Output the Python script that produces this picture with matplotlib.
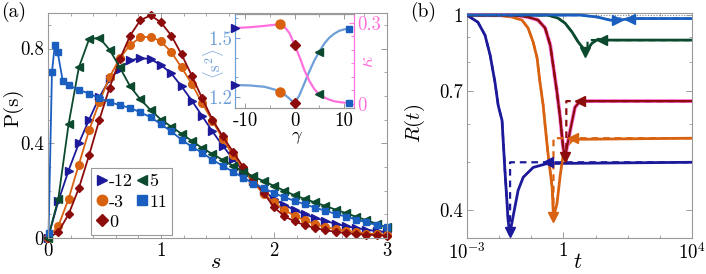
import numpy as np
import matplotlib
matplotlib.use('Agg')
import matplotlib.pyplot as plt
import matplotlib.patheffects as pe
from matplotlib.ticker import MultipleLocator, FixedLocator, FixedFormatter, NullFormatter

plt.rcParams['font.family'] = ['cmr10', 'DejaVu Serif']
plt.rcParams['mathtext.fontset'] = 'cm'
plt.rcParams['axes.formatter.use_mathtext'] = True

# ---------------- colours ----------------
c_navy = '#1c1a9a'
c_orange = '#d8620f'
c_red = '#8c0c0c'
c_green = '#0b4a2e'
c_blue = '#1a5fc0'
c_lblue = '#6e9fd6'
c_pink = '#ff70dd'
c_spine = '#9a9a9a'

# ---------------- panel (a) data ----------------
gammas = ['-12', '-3', '0', '5', '11']
s_grid = [0.0, 0.091, 0.182, 0.273, 0.364, 0.455, 0.545, 0.636, 0.727, 0.818, 0.909,
          1.0, 1.091, 1.182, 1.273, 1.364, 1.455, 1.545, 1.636, 1.727, 1.818, 1.909,
          2.0, 2.091, 2.182, 2.273, 2.364, 2.455, 2.545, 2.636, 2.727, 2.818, 2.909, 3.0]
P_m12 = [0.0, 0.155, 0.285, 0.40, 0.50, 0.595, 0.67, 0.715, 0.75, 0.76, 0.755,
         0.73, 0.695, 0.64, 0.58, 0.515, 0.45, 0.39, 0.335, 0.285, 0.24, 0.20,
         0.165, 0.14, 0.118, 0.10, 0.085, 0.072, 0.06, 0.05, 0.042, 0.035, 0.029, 0.024]
P_m3 = [0.0, 0.05, 0.165, 0.31, 0.455, 0.575, 0.68, 0.76, 0.815, 0.847, 0.85,
        0.83, 0.785, 0.72, 0.65, 0.57, 0.495, 0.42, 0.35, 0.29, 0.235, 0.185,
        0.15, 0.118, 0.094, 0.074, 0.058, 0.046, 0.037, 0.03, 0.024, 0.019, 0.016, 0.013]
P_0 = [0.0, 0.025, 0.10, 0.21, 0.35, 0.50, 0.635, 0.755, 0.855, 0.92, 0.94,
       0.91, 0.855, 0.775, 0.685, 0.59, 0.50, 0.43, 0.365, 0.30, 0.245, 0.19,
       0.13, 0.092, 0.07, 0.054, 0.042, 0.033, 0.026, 0.021, 0.017, 0.014, 0.012, 0.01]
P_5 = [0.0, 0.165, 0.48, 0.72, 0.84, 0.845, 0.795, 0.72, 0.64, 0.585, 0.54,
       0.50, 0.47, 0.44, 0.41, 0.38, 0.355, 0.33, 0.305, 0.28, 0.26, 0.24,
       0.22, 0.20, 0.18, 0.165, 0.15, 0.135, 0.12, 0.105, 0.09, 0.075, 0.06, 0.045]
s_11 = [0.005, 0.035, 0.06, 0.085, 0.13, 0.182, 0.273, 0.364, 0.455, 0.545, 0.636, 0.727,
        0.818, 0.909, 1.0, 1.091, 1.182, 1.273, 1.364, 1.455, 1.545, 1.636, 1.727, 1.818,
        1.909, 2.0, 2.091, 2.182, 2.273, 2.364, 2.455, 2.545, 2.636, 2.727, 2.818, 2.909, 3.0]
P_11 = [0.02, 0.70, 0.815, 0.786, 0.665, 0.645, 0.625, 0.61, 0.59, 0.575, 0.56, 0.55,
        0.53, 0.51, 0.48, 0.45, 0.415, 0.385, 0.36, 0.33, 0.305, 0.28, 0.255, 0.23,
        0.21, 0.19, 0.172, 0.157, 0.142, 0.128, 0.115, 0.102, 0.09, 0.078, 0.066, 0.055, 0.045]

# ---------------- inset data ----------------
gam_curve = [-12, -9, -6, -4, -3, -2, -1, 0, 1, 2, 3, 4, 5, 6, 7, 8, 9, 10, 11]
s2_curve = [1.261, 1.259, 1.252, 1.238, 1.228, 1.213, 1.192, 1.168, 1.21, 1.27, 1.33,
            1.385, 1.43, 1.47, 1.50, 1.52, 1.535, 1.542, 1.546]
kappa_curve = [0.281, 0.284, 0.289, 0.293, 0.296, 0.285, 0.262, 0.219, 0.175, 0.125,
               0.085, 0.055, 0.035, 0.024, 0.016, 0.010, 0.007, 0.005, 0.004]
gam_mark = [-12, -3, 0, 5, 11]
s2_mark = [1.261, 1.228, 1.168, 1.43, 1.546]
kappa_mark = [0.281, 0.296, 0.219, 0.035, 0.004]

# ---------------- panel (b) data (log10 t, R) ----------------
lt_m12 = [-3.0, -2.66, -2.44, -2.28, -2.13, -2.03, -1.91, -1.82, -1.72, -1.67, -1.57, -1.41, -1.25, -0.94, -0.51, 4.0]
R_m12 = [1.0, 0.967, 0.910, 0.828, 0.729, 0.654, 0.609, 0.481, 0.380, 0.357, 0.386, 0.438, 0.466, 0.488, 0.497, 0.50]
ltd_m12 = [-3.0, -2.66, -2.44, -2.28, -2.13, -2.03, -1.91, -1.82, -1.72, -1.66, -1.66, 4.0]
Rd_m12 = [1.0, 0.967, 0.910, 0.828, 0.729, 0.654, 0.609, 0.481, 0.380, 0.365, 0.50, 0.50]

lt_m3 = [-3.0, -2.0, -1.60, -1.29, -1.10, -0.94, -0.82, -0.73, -0.63, -0.57, -0.48, -0.35, -0.31, -0.20, -0.10, -0.01, 0.12, 0.30, 4.0]
R_m3 = [1.0, 0.999, 0.991, 0.977, 0.941, 0.880, 0.817, 0.729, 0.654, 0.595, 0.521, 0.444, 0.386, 0.412, 0.470, 0.517, 0.541, 0.557, 0.560]
ltd_m3 = [-3.0, -2.0, -1.60, -1.29, -1.10, -0.94, -0.82, -0.73, -0.63, -0.57, -0.48, -0.35, -0.31, -0.31, 4.0]
Rd_m3 = [1.0, 0.999, 0.991, 0.977, 0.941, 0.880, 0.817, 0.729, 0.654, 0.595, 0.521, 0.444, 0.39, 0.560, 0.560]

lt_0 = [-3.0, -1.5, -1.10, -0.79, -0.57, -0.41, -0.32, -0.20, -0.10, -0.01, 0.05, 0.21, 0.36, 0.52, 4.0]
R_0 = [1.0, 0.999, 0.991, 0.977, 0.941, 0.868, 0.790, 0.695, 0.615, 0.537, 0.512, 0.581, 0.648, 0.667, 0.667]
ltd_0 = [-3.0, -1.5, -1.10, -0.79, -0.57, -0.41, -0.32, -0.20, -0.10, -0.01, 0.09, 0.09, 4.0]
Rd_0 = [1.0, 0.999, 0.991, 0.977, 0.941, 0.868, 0.790, 0.695, 0.615, 0.537, 0.50, 0.667, 0.667]

lt_5 = [-3.0, -0.48, -0.17, 0.05, 0.27, 0.46, 0.61, 0.68, 0.89, 1.08, 1.21, 4.0]
R_5 = [1.0, 1.0, 0.986, 0.963, 0.923, 0.881, 0.856, 0.840, 0.876, 0.893, 0.889, 0.889]
ltd_5 = [-3.0, -0.48, -0.17, 0.05, 0.27, 0.46, 0.61, 0.75, 0.75, 4.0]
Rd_5 = [1.0, 1.0, 0.986, 0.963, 0.923, 0.881, 0.856, 0.845, 0.889, 0.889]

lt_11 = [-3.0, 0.52, 1.05, 1.45, 1.67, 2.08, 4.0]
R_11 = [1.0, 1.0, 0.991, 0.977, 0.975, 0.984, 0.984]
ltd_11 = [-3.0, 0.52, 1.05, 1.45, 1.67, 1.67, 4.0]
Rd_11 = [1.0, 1.0, 0.991, 0.977, 0.975, 0.984, 0.984]

min_lt = [-1.67, -0.31, 0.05, 0.68, 1.67]
min_R = [0.36, 0.386, 0.512, 0.842, 0.975]
plat_lt = [-0.48, 0.30, 0.52, 1.21, 2.08]
plat_R = [0.50, 0.560, 0.667, 0.889, 0.984]

# ---------------- figure ----------------
W, H = 706, 274
fig = plt.figure(figsize=(W / 100, H / 100), dpi=100)

def fx(px):
    return px / W

def fy(py):
    return 1 - py / H

axa = fig.add_axes([fx(48), fy(238), fx(387) - fx(48), fy(13) - fy(238)])
axb = fig.add_axes([fx(467), fy(238), fx(692) - fx(467), fy(13) - fy(238)])
axi = fig.add_axes([fx(235), fy(108), fx(354) - fx(235), fy(14) - fy(108)])

def style_axes(ax, color=c_spine):
    for sp in ax.spines.values():
        sp.set_color(color)
        sp.set_linewidth(0.8)
    ax.tick_params(which='both', direction='in', top=True, right=True,
                   color=color, labelsize=13.5, pad=3)
    ax.tick_params(which='major', length=4.5, width=0.7)
    ax.tick_params(which='minor', length=2.5, width=0.6)

# ---- panel (a)
cols = [c_navy, c_orange, c_red, c_green, c_blue]
marks = ['>', 'o', 'D', '<', 's']
msz = [5.5, 5.5, 4.5, 5.5, 4.5]
series = [(s_grid, P_m12), (s_grid, P_m3), (s_grid, P_0), (s_grid, P_5), (s_11, P_11)]
for (xs, ys), c, m, ms, lab in zip(series, cols, marks, msz, gammas):
    axa.plot(xs, ys, color=c, marker=m, ms=ms, lw=1.3, clip_on=False, label=lab)

axa.set_xlim(0, 3)
axa.set_ylim(0, 0.95)
style_axes(axa)
axa.xaxis.set_major_locator(FixedLocator([0, 1, 2, 3]))
axa.xaxis.set_major_formatter(FixedFormatter(['0', '1', '2', '3']))
axa.xaxis.set_minor_locator(MultipleLocator(0.2))
axa.yaxis.set_major_locator(FixedLocator([0, 0.4, 0.8]))
axa.yaxis.set_major_formatter(FixedFormatter(['0', '0.4', '0.8']))
axa.yaxis.set_minor_locator(MultipleLocator(0.1))

leg_handles = []
for c, m, ms in zip(cols, marks, msz):
    leg_handles.append(plt.Line2D([], [], color=c, marker=m, ms=ms + 2, ls='none'))
leg = axa.legend(leg_handles, gammas, ncol=2, loc='lower left',
                 bbox_to_anchor=(0.127, 0.013), borderaxespad=0, fontsize=13,
                 handlelength=0.6, handletextpad=0.1, columnspacing=0.2,
                 labelspacing=0.25, borderpad=0.3, fancybox=False,
                 edgecolor=c_spine, framealpha=1)
leg.get_frame().set_linewidth(0.8)

# ---- inset
axi.plot(gam_curve, s2_curve, color=c_lblue, lw=1.6, zorder=2)
axi.set_xlim(-12, 12)
axi.set_ylim(1.145, 1.62)
axi2 = axi.twinx()
axi2.plot(gam_curve, kappa_curve, color=c_pink, lw=1.6, zorder=2)
axi2.set_ylim(-0.015, 0.333)
imsz = [6, 6.5, 5, 6, 5]
for g, sv, kv, c, m, ms in zip(gam_mark, s2_mark, kappa_mark, cols, marks, imsz):
    axi2.plot([g], [kv], color=c, marker=m, ms=ms, ls='none', clip_on=False, zorder=5)
    axi2.plot([g], [(sv - 1.145) / (1.62 - 1.145) * (0.333 + 0.015) - 0.015], color=c,
              marker=m, ms=ms, ls='none', clip_on=False, zorder=5)

for ax in (axi, axi2):
    for sp in ax.spines.values():
        sp.set_color(c_spine)
        sp.set_linewidth(0.8)
axi.spines['left'].set_color(c_lblue)
axi2.spines['left'].set_color(c_lblue)
axi.spines['right'].set_color(c_pink)
axi2.spines['right'].set_color(c_pink)
axi.tick_params(which='both', direction='in', top=True, right=False, labelsize=13.5, pad=2)
axi.tick_params(axis='x', which='both', colors='black', color=c_spine, pad=3)
axi.tick_params(axis='y', which='both', color=c_lblue, labelcolor=c_lblue)
axi.tick_params(which='major', length=3.5, width=0.7)
axi.tick_params(which='minor', length=2, width=0.6)
axi2.tick_params(which='both', direction='in', right=True, left=False, labelsize=13.5,
                 color=c_pink, labelcolor=c_pink, pad=2)
axi2.tick_params(which='major', length=3.5, width=0.7)
axi2.tick_params(which='minor', length=2, width=0.6)
axi.xaxis.set_major_locator(FixedLocator([-10, 0, 10]))
axi.xaxis.set_major_formatter(FixedFormatter(['-10', '0', '10']))
axi.xaxis.set_minor_locator(MultipleLocator(5))
axi.yaxis.set_major_locator(FixedLocator([1.2, 1.5]))
axi.yaxis.set_major_formatter(FixedFormatter(['1.2', '1.5']))
axi.yaxis.set_minor_locator(MultipleLocator(0.1))
axi2.yaxis.set_major_locator(FixedLocator([0, 0.3]))
axi2.yaxis.set_major_formatter(FixedFormatter(['0', '0.3']))
axi2.yaxis.set_minor_locator(MultipleLocator(0.05))
axi.set_zorder(3)
axi2.set_zorder(4)
axi.patch.set_facecolor('white')
axi2.patch.set_visible(False)

# ---- panel (b)
axb.axhline(1.0, color='#888888', ls=(0, (1, 1.5)), lw=0.8, zorder=1)
sol = [(lt_m12, R_m12), (lt_m3, R_m3), (lt_0, R_0), (lt_5, R_5), (lt_11, R_11)]
das = [(ltd_m12, Rd_m12), (ltd_m3, Rd_m3), (ltd_0, Rd_0), (ltd_5, Rd_5), (ltd_11, Rd_11)]
bcols = [c_navy, c_orange, c_red, c_green, c_blue]
min_marks = ['v', 'v', 'v', 'v', '>']
for i, ((lx, ry), (dx, dy), c) in enumerate(zip(sol, das, bcols)):
    t = 10 ** np.array(lx)
    if i == 2:
        axb.plot(t, ry, color=c, lw=1.6, zorder=3,
                 path_effects=[pe.Stroke(linewidth=2.8, foreground=c_pink), pe.Normal()])
    else:
        axb.plot(t, ry, color=c, lw=2.0, zorder=3)
    axb.plot(10 ** np.array(dx), dy, color=c, lw=1.6, ls=(0, (3, 2.2)), zorder=4)
    axb.plot([10 ** min_lt[i]], [min_R[i]], color=c, marker=min_marks[i], ms=7,
             ls='none', clip_on=False, zorder=5)
    axb.plot([10 ** plat_lt[i]], [plat_R[i]], color=c, marker='<', ms=7,
             ls='none', clip_on=False, zorder=5)

axb.set_xscale('log')
axb.set_yscale('log')
axb.set_xlim(1e-3, 1e4)
axb.set_ylim(0.35, 1.01)
style_axes(axb)
axb.xaxis.set_major_locator(FixedLocator([1e-3, 1, 1e4]))
axb.xaxis.set_major_formatter(FixedFormatter([r'$10^{-3}$', r'$1$', r'$10^{4}$']))
axb.xaxis.set_minor_locator(FixedLocator([1e-2, 1e-1, 10, 100, 1000]))
axb.xaxis.set_minor_formatter(NullFormatter())
axb.yaxis.set_major_locator(FixedLocator([0.4, 0.7, 1.0]))
axb.yaxis.set_major_formatter(FixedFormatter(['0.4', '0.7', '1']))
axb.yaxis.set_minor_locator(FixedLocator([0.5, 0.6, 0.8, 0.9]))
axb.yaxis.set_minor_formatter(NullFormatter())

# ---- texts
fig.text(fx(1), fy(12), '(a)', fontsize=14, va='center', ha='left')
fig.text(fx(410), fy(12), '(b)', fontsize=14, va='center', ha='left')
fig.text(fx(13), fy(108), 'P(s)', fontsize=15, rotation=90, va='center', ha='center')
fig.text(fx(216), fy(262), r'$s$', fontsize=16, va='center', ha='center')
fig.text(fx(415), fy(123), r'$R(t)$', fontsize=15, rotation=90, va='center', ha='center')
fig.text(fx(578), fy(262), r'$t$', fontsize=16, va='center', ha='center')
fig.text(fx(297), fy(129), r'$\gamma$', fontsize=13, va='top', ha='center')
fig.text(fx(213), fy(64), r'$\langle\mathrm{s}^2\rangle$', fontsize=12, rotation=90,
         va='center', ha='center', color=c_lblue)
fig.text(fx(368), fy(62), r'$\kappa$', fontsize=14, rotation=90, va='center',
         ha='center', color=c_pink)

fig.savefig('out.png', dpi=100)
